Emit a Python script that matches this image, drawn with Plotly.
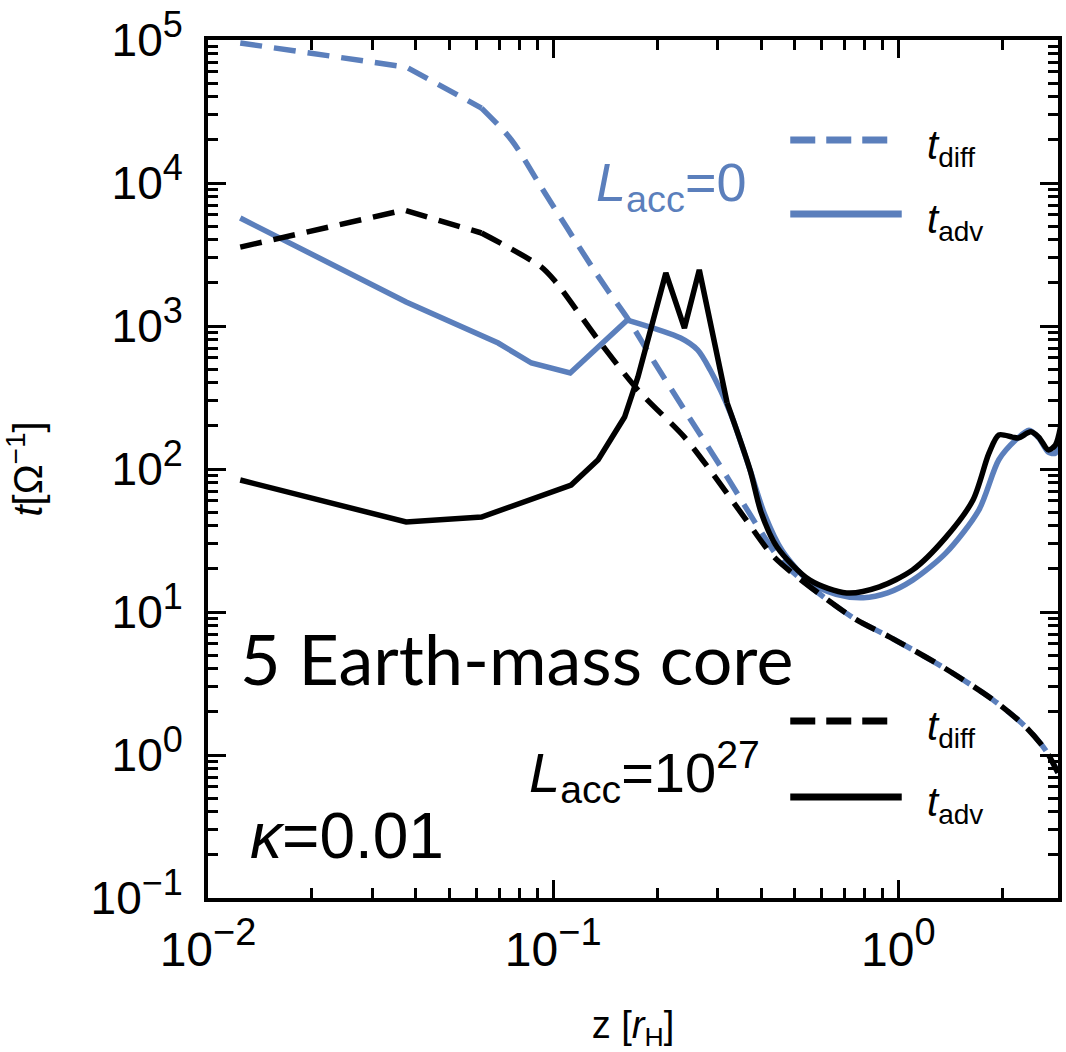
import plotly.graph_objects as go

# ---------------- data ----------------
# L_acc = 0 (blue)
z_diff_0 = [0.0124, 0.0375, 0.062, 0.0757, 0.0923, 0.110, 0.129, 0.144, 0.164, 0.197,
            0.240, 0.319, 0.397, 0.46, 0.608, 0.757, 0.942, 1.35, 1.88, 2.34, 2.67, 2.9]
t_diff_0 = [95300, 64700, 33400, 20000, 9370, 4800, 2630, 1770, 1137, 551,
            259, 88, 37.4, 22.5, 12.7, 8.8, 6.7, 4.1, 2.43, 1.57, 1.08, 0.75]

z_adv_0 = [0.0124, 0.0375, 0.0693, 0.0865, 0.112, 0.164, 0.234, 0.262, 0.285, 0.326,
           0.372, 0.41, 0.46, 0.554, 0.66, 0.792, 0.93, 1.10, 1.374, 1.71,
           1.954, 2.19, 2.39, 2.55, 2.72, 2.85, 2.91]
t_adv_0 = [5690, 1473, 760, 551, 469, 1101, 824, 680, 492, 247,
           98, 48, 27, 16.2, 13.3, 12.6, 13.6, 16.7, 25.9, 51.6,
           116, 160, 187, 165, 131, 129, 160]

# L_acc = 1e27 (black)
z_diff_27 = [0.0124, 0.037, 0.062, 0.0923, 0.1014, 0.135, 0.176, 0.240, 0.285, 0.36,
             0.436, 0.608, 0.757, 0.942, 1.35, 1.88, 2.34, 2.67, 2.9]
t_diff_27 = [3565, 6470, 4470, 2590, 2050, 800, 357, 167, 98, 45,
             24.3, 12.7, 8.8, 6.7, 4.1, 2.43, 1.57, 1.08, 0.75]

z_adv_27 = [0.0124, 0.0375, 0.062, 0.1127, 0.135, 0.161, 0.176, 0.212, 0.240, 0.265,
            0.319, 0.372, 0.40, 0.445, 0.554, 0.708, 0.881, 1.10, 1.374, 1.645,
            1.83, 1.954, 2.14, 2.23, 2.42, 2.55, 2.72, 2.85, 2.95]
t_adv_27 = [83.8, 42.6, 46.1, 77.3, 116, 231, 440, 2350, 968, 2470,
            290, 98, 50, 28.5, 16.7, 13.6, 15.0, 19.7, 33.4, 60.7,
            129, 173, 167, 165, 182, 167, 136, 147, 197]

x_tickvals = [0.01, 0.1, 1]
x_ticktext = ["−2", "−1", "0"]
y_tickvals = [0.1, 1, 10, 100, 1000, 10000, 100000]
y_ticktext = ["−1", "0", "1", "2", "3", "4", "5"]

BLUE = "#5B7FBC"
BLACK = "#000000"
LW = 5.5
DASH = "22px,12px"
FONT = "Liberation Sans, Arial, sans-serif"


def pow10(exp, sup_size):
    return "10<sup><span style='font-size:%dpx'>%s</span></sup>" % (sup_size, exp)


x_minor = [m * 10 ** e for e in (-2, -1, 0) for m in range(2, 10) if m * 10 ** e < 3]
y_minor = [m * 10 ** e for e in range(-1, 5) for m in range(2, 10)]

fig = go.Figure()


def add_line(z, t, color, dash, split, shape_right="spline"):
    # left part straight segments, right part smooth
    dash_kw = dict(dash=dash) if dash else {}
    fig.add_trace(go.Scatter(x=z[:split + 1], y=t[:split + 1], mode="lines",
                             line=dict(color=color, width=LW, **dash_kw), showlegend=False))
    fig.add_trace(go.Scatter(x=z[split:], y=t[split:], mode="lines",
                             line=dict(color=color, width=LW, shape=shape_right, smoothing=0.8,
                                       **dash_kw), showlegend=False))


add_line(z_diff_0, t_diff_0, BLUE, DASH, 2)
add_line(z_adv_0, t_adv_0, BLUE, None, 5)
add_line(z_diff_27, t_diff_27, BLACK, DASH, 2)
add_line(z_adv_27, t_adv_27, BLACK, None, 10)

# plot area: x 208..1062 px, y 40..898 px
axis_common = dict(
    showline=True, linecolor="black", linewidth=4, mirror="ticks",
    ticks="inside", ticklen=18, tickwidth=3, tickcolor="black",
    showgrid=False, zeroline=False, tickmode="array",
)

fig.update_xaxes(type="log", range=[-2, 0.4624], tickvals=x_tickvals,
                 ticktext=[pow10(e, 38) for e in x_ticktext],
                 tickfont=dict(family=FONT, size=48, color="black"),
                 minor=dict(ticks="inside", ticklen=10, tickwidth=3, tickcolor="black",
                            tickmode="array", tickvals=x_minor, showgrid=False),
                 title=dict(text="z [<i>r</i><sub>H</sub>]",
                            font=dict(family=FONT, size=38, color="black"), standoff=38),
                 ticklabelstandoff=6,
                 **axis_common)
fig.update_yaxes(type="log", range=[-1, 5], tickvals=y_tickvals,
                 ticktext=[pow10(e, 36) for e in y_ticktext],
                 tickfont=dict(family=FONT, size=46, color="black"),
                 minor=dict(ticks="inside", ticklen=10, tickwidth=3, tickcolor="black",
                            tickmode="array", tickvals=y_minor, showgrid=False),
                 title=dict(text="<i>t</i>[Ω<sup>−1</sup>]",
                            font=dict(family=FONT, size=40, color="black"), standoff=40),
                 ticklabelstandoff=12,
                 **axis_common)

PW, PH = 854.0, 858.0


def px(x):
    return (x - 208) / PW


def py(y):
    return (898 - y) / PH


# legend keys (decorations)
shapes = [
    dict(type="line", xref="paper", yref="paper", x0=px(793), x1=px(893), y0=py(140), y1=py(140),
         line=dict(color=BLUE, width=7, dash="25px,11px")),
    dict(type="line", xref="paper", yref="paper", x0=px(793), x1=px(905), y0=py(214), y1=py(214),
         line=dict(color=BLUE, width=7)),
    dict(type="line", xref="paper", yref="paper", x0=px(793), x1=px(893), y0=py(721), y1=py(721),
         line=dict(color=BLACK, width=7, dash="25px,11px")),
    dict(type="line", xref="paper", yref="paper", x0=px(793), x1=px(905), y0=py(797), y1=py(797),
         line=dict(color=BLACK, width=7)),
]


def ann(text, x, y, size, color="black", family=FONT, xanchor="left"):
    return dict(text=text, xref="paper", yref="paper", x=px(x), y=py(y), showarrow=False,
                xanchor=xanchor, yanchor="middle", font=dict(family=family, size=size, color=color))


annotations = [
    ann("<i>t</i><sub>diff</sub>", 928, 148, 40),
    ann("<i>t</i><sub>adv</sub>", 928, 222, 40),
    ann("<i>t</i><sub>diff</sub>", 928, 729, 40),
    ann("<i>t</i><sub>adv</sub>", 928, 805, 40),
    ann("<i>L</i><sub>acc</sub>=0", 596, 186, 54, color=BLUE),
    ann("<i>L</i><sub>acc</sub>=10<sup>27</sup>", 528, 772, 56),
    ann("<i>κ</i>=0.01", 248, 836, 64),
    ann("5 Earth-mass core", 238, 658, 70, family="Lato, Gill Sans, sans-serif"),
]

fig.update_layout(
    width=1066, height=1052,
    margin=dict(l=208, r=4, t=40, b=154),
    paper_bgcolor="white", plot_bgcolor="white",
    shapes=shapes, annotations=annotations, showlegend=False,
)

fig.write_html("out.html")
